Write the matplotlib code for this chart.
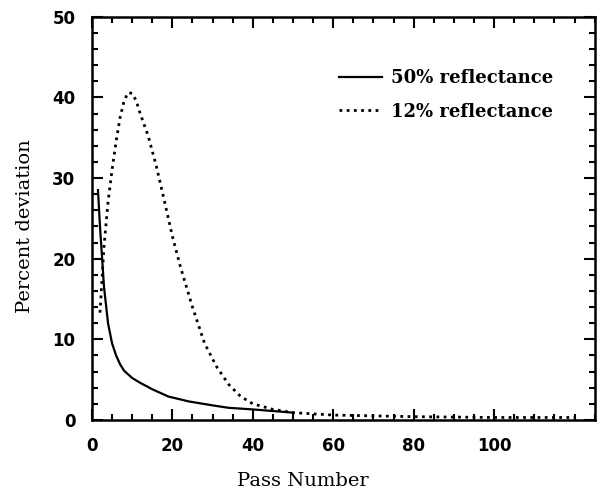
import matplotlib.pyplot as plt
from matplotlib.ticker import MultipleLocator

# data
pass_50 = [1.5, 2, 3, 4, 5, 6, 7, 8, 10, 12, 15, 19, 24, 30, 34, 40, 45, 50]
dev_50 = [28.5, 24.0, 16.5, 12.0, 9.5, 8.0, 6.9, 6.1, 5.2, 4.6, 3.8, 2.9, 2.3, 1.8, 1.5, 1.3, 1.1, 0.9]

pass_12 = [2, 3, 4, 5, 6, 7, 8, 9, 10, 11, 12, 14, 16, 18, 20, 22, 25, 28, 31, 34,
           37, 40, 45, 50, 60, 70, 80, 90, 100, 110, 120]
dev_12 = [13.3, 21.5, 27.0, 31.0, 34.5, 37.5, 39.6, 40.6, 40.5, 39.6, 38.0, 35.2,
          31.5, 27.2, 22.8, 19.0, 14.0, 9.5, 6.6, 4.4, 2.9, 2.0, 1.3, 0.9, 0.6, 0.5,
          0.4, 0.35, 0.3, 0.3, 0.3]

xticks = [0, 20, 40, 60, 80, 100]

fig = plt.figure(figsize=(5.97, 4.94), dpi=100)
ax = fig.add_axes([0.154, 0.15, 0.842, 0.816])

ax.plot(pass_50, dev_50, color='black', lw=1.6, label='50% reflectance')
ax.plot(pass_12, dev_12, color='black', lw=2.0, ls=(0, (1, 1.6)), label='12% reflectance')

ax.set_xlim(0, 125)
ax.set_ylim(0, 50)
ax.set_xticks(xticks)
ax.xaxis.set_minor_locator(MultipleLocator(5))
ax.yaxis.set_major_locator(MultipleLocator(10))
ax.yaxis.set_minor_locator(MultipleLocator(2))
ax.tick_params(which='both', direction='in', top=True, right=True, width=1.5)
ax.tick_params(which='major', length=8, labelsize=12)
ax.tick_params(axis='x', which='major', pad=12)
ax.tick_params(axis='y', which='major', pad=12)
ax.tick_params(which='minor', length=4)
for lab in ax.get_xticklabels() + ax.get_yticklabels():
    lab.set_fontweight('bold')
for s in ax.spines.values():
    s.set_linewidth(1.8)

ax.set_xlabel('Pass Number', fontsize=14, family='DejaVu Serif')
ax.xaxis.set_label_coords(0.42, -0.13)
ax.set_ylabel('Percent deviation', fontsize=14, family='DejaVu Serif')
ax.yaxis.set_label_coords(-0.115, 0.48)

ax.legend(loc='upper right', bbox_to_anchor=(0.95, 0.91), frameon=False, handlelength=2.4,
          handletextpad=0.5, labelspacing=0.85,
          prop={'family': 'DejaVu Serif', 'weight': 'bold', 'size': 13})

plt.savefig('out.png', dpi=100)
